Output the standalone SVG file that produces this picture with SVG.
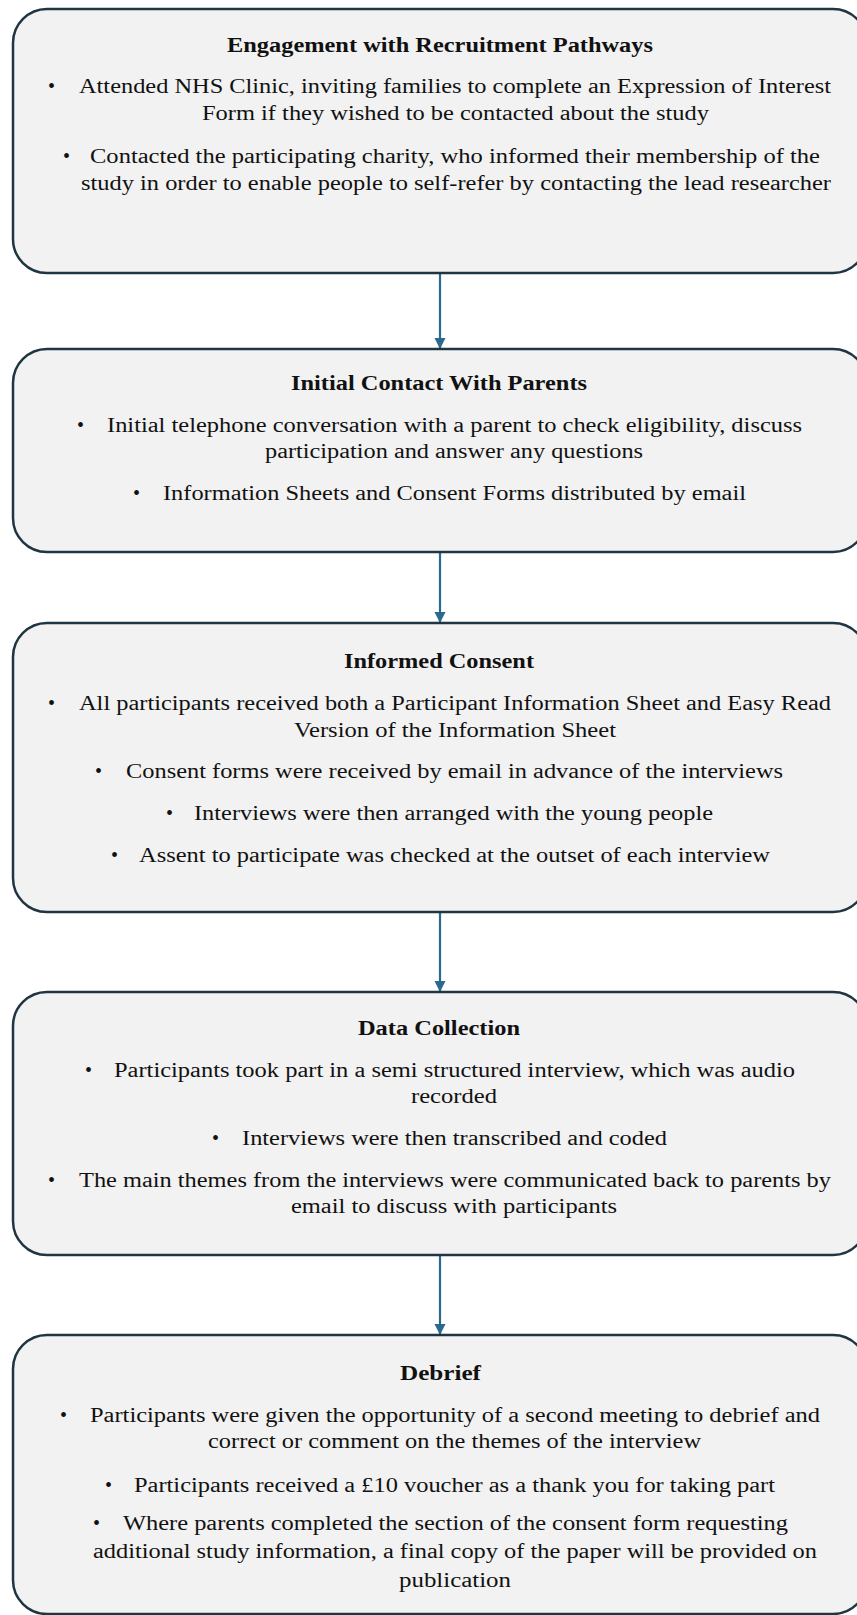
<svg xmlns="http://www.w3.org/2000/svg" width="857" height="1615" viewBox="0 0 857 1615">
<style>
.box{fill:#f2f2f2;stroke:#1f3542;stroke-width:2.5}
.t{font-family:"Liberation Serif","Times New Roman",serif;font-size:20px;fill:#111}
.h{font-weight:bold}
.conn{stroke:#2a6a8e;stroke-width:2.2;fill:none}
</style>
<defs>
<marker id="ah" markerUnits="userSpaceOnUse" markerWidth="12" markerHeight="12" refX="11" refY="6" orient="auto">
<path d="M0,0.5 L11,6 L0,11.5 z" fill="#2a6a8e"/>
</marker>
</defs>
<rect width="857" height="1615" fill="#ffffff"/>
<g id="connectors">
<line class="conn" x1="440" y1="274" x2="440" y2="349" marker-end="url(#ah)"/>
<line class="conn" x1="440" y1="553" x2="440" y2="623" marker-end="url(#ah)"/>
<line class="conn" x1="440" y1="913" x2="440" y2="992" marker-end="url(#ah)"/>
<line class="conn" x1="440" y1="1256" x2="440" y2="1335" marker-end="url(#ah)"/>
</g>
<g id="node-recruitment">
<rect class="box" x="13" y="9" width="854" height="264" rx="34" ry="34"/>
<text class="t h" x="227" y="52" textLength="426" lengthAdjust="spacingAndGlyphs">Engagement with Recruitment Pathways</text>
<text class="t" x="48" y="93">•</text>
<text class="t" x="79" y="93" textLength="752" lengthAdjust="spacingAndGlyphs">Attended NHS Clinic, inviting families to complete an Expression of Interest</text>
<text class="t" x="202" y="120" textLength="507" lengthAdjust="spacingAndGlyphs">Form if they wished to be contacted about the study</text>
<text class="t" x="63" y="163">•</text>
<text class="t" x="90" y="163" textLength="730" lengthAdjust="spacingAndGlyphs">Contacted the participating charity, who informed their membership of the</text>
<text class="t" x="81" y="190" textLength="750" lengthAdjust="spacingAndGlyphs">study in order to enable people to self-refer by contacting the lead researcher</text>
</g>
<g id="node-initial-contact">
<rect class="box" x="13" y="349" width="854" height="203" rx="34" ry="34"/>
<text class="t h" x="291" y="390" textLength="296" lengthAdjust="spacingAndGlyphs">Initial Contact With Parents</text>
<text class="t" x="77" y="432">•</text>
<text class="t" x="107" y="432" textLength="695" lengthAdjust="spacingAndGlyphs">Initial telephone conversation with a parent to check eligibility, discuss</text>
<text class="t" x="265" y="458" textLength="378" lengthAdjust="spacingAndGlyphs">participation and answer any questions</text>
<text class="t" x="133" y="500">•</text>
<text class="t" x="163" y="500" textLength="583" lengthAdjust="spacingAndGlyphs">Information Sheets and Consent Forms distributed by email</text>
</g>
<g id="node-informed-consent">
<rect class="box" x="13" y="623" width="854" height="289" rx="34" ry="34"/>
<text class="t h" x="344" y="668" textLength="190" lengthAdjust="spacingAndGlyphs">Informed Consent</text>
<text class="t" x="48" y="710">•</text>
<text class="t" x="79" y="710" textLength="752" lengthAdjust="spacingAndGlyphs">All participants received both a Participant Information Sheet and Easy Read</text>
<text class="t" x="294" y="737" textLength="322" lengthAdjust="spacingAndGlyphs">Version of the Information Sheet</text>
<text class="t" x="95" y="778">•</text>
<text class="t" x="126" y="778" textLength="657" lengthAdjust="spacingAndGlyphs">Consent forms were received by email in advance of the interviews</text>
<text class="t" x="166" y="820">•</text>
<text class="t" x="194" y="820" textLength="519" lengthAdjust="spacingAndGlyphs">Interviews were then arranged with the young people</text>
<text class="t" x="111" y="862">•</text>
<text class="t" x="139" y="862" textLength="631" lengthAdjust="spacingAndGlyphs">Assent to participate was checked at the outset of each interview</text>
</g>
<g id="node-data-collection">
<rect class="box" x="13" y="992" width="854" height="263" rx="34" ry="34"/>
<text class="t h" x="358" y="1035" textLength="162" lengthAdjust="spacingAndGlyphs">Data Collection</text>
<text class="t" x="85" y="1077">•</text>
<text class="t" x="114" y="1077" textLength="681" lengthAdjust="spacingAndGlyphs">Participants took part in a semi structured interview, which was audio</text>
<text class="t" x="411" y="1103" textLength="86" lengthAdjust="spacingAndGlyphs">recorded</text>
<text class="t" x="212" y="1145">•</text>
<text class="t" x="242" y="1145" textLength="425" lengthAdjust="spacingAndGlyphs">Interviews were then transcribed and coded</text>
<text class="t" x="48" y="1187">•</text>
<text class="t" x="79" y="1187" textLength="752" lengthAdjust="spacingAndGlyphs">The main themes from the interviews were communicated back to parents by</text>
<text class="t" x="291" y="1213" textLength="326" lengthAdjust="spacingAndGlyphs">email to discuss with participants</text>
</g>
<g id="node-debrief">
<rect class="box" x="13" y="1335" width="854" height="279" rx="34" ry="34"/>
<text class="t h" x="400" y="1380" textLength="81" lengthAdjust="spacingAndGlyphs">Debrief</text>
<text class="t" x="60" y="1422">•</text>
<text class="t" x="90" y="1422" textLength="730" lengthAdjust="spacingAndGlyphs">Participants were given the opportunity of a second meeting to debrief and</text>
<text class="t" x="208" y="1448" textLength="493" lengthAdjust="spacingAndGlyphs">correct or comment on the themes of the interview</text>
<text class="t" x="105" y="1492">•</text>
<text class="t" x="134" y="1492" textLength="641" lengthAdjust="spacingAndGlyphs">Participants received a £10 voucher as a thank you for taking part</text>
<text class="t" x="93" y="1530">•</text>
<text class="t" x="123" y="1530" textLength="665" lengthAdjust="spacingAndGlyphs">Where parents completed the section of the consent form requesting</text>
<text class="t" x="93" y="1558" textLength="724" lengthAdjust="spacingAndGlyphs">additional study information, a final copy of the paper will be provided on</text>
<text class="t" x="399" y="1587" textLength="112" lengthAdjust="spacingAndGlyphs">publication</text>
</g>
</svg>
